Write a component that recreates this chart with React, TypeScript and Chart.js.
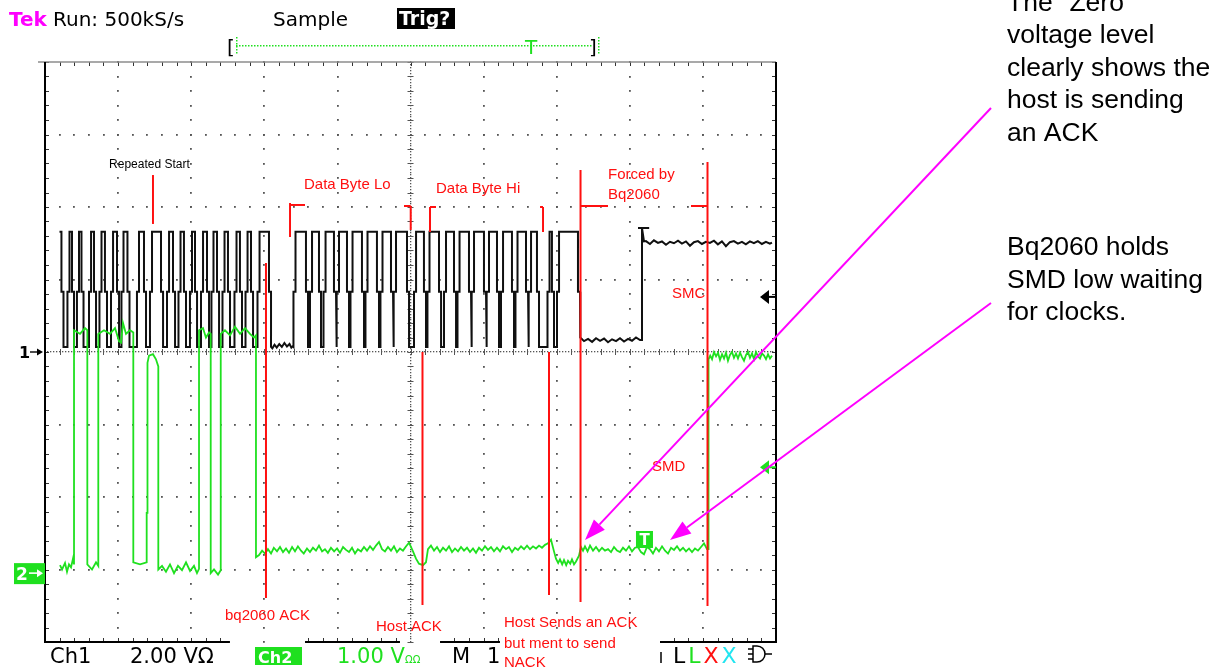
import React, { useEffect, useRef } from 'react';
import { Chart, registerables } from 'chart.js';

Chart.register(...registerables);

// ---------------- data ----------------
// time axis in microseconds (100 us/div, 10 div on screen); channel values in volts
const TIME_RANGE_US = [0, 1000];
const CH1_VOLTS_RANGE = [-8, 8]; // 2.00 V/div, ground at the centre line
const CH2_VOLTS_RANGE = [-0.95, 7.05]; // 1.00 V/div, ground 3.05 div below centre
const DIV_RANGE = [-4, 4];

// Ch1 (SMC, black): clock pulses, middle of each rising / falling edge
const CH1_RISE_US = [19.8, 32.1, 45.1, 61.6, 75.9, 91.7, 106.0, 127.2, 145.0, 168.3, 184.0, 199.7, 214.8, 229.1, 244.2, 260.6, 275.7, 292.1, 341.3, 363.9, 382.4, 400.8, 419.3, 439.8, 460.3, 478.8, 506.2, 524.6, 547.2, 565.7, 585.5, 606.0, 625.2, 645.0, 663.5, 688.8, 701.8];
const CH1_FALL_US = [23.9, 38.3, 51.3, 68.4, 83.4, 99.9, 114.2, 136.8, 160.1, 176.5, 191.5, 206.6, 223.0, 236.7, 251.7, 268.1, 283.2, 307.8, 358.4, 376.2, 396.7, 414.5, 435.0, 455.5, 474.7, 496.6, 519.8, 540.4, 560.9, 581.4, 601.9, 619.7, 640.2, 659.4, 674.4, 694.9, 730.5];
const CH1_LOW_V = 0.14;
const CH1_HIGH_V = 3.32;
const CH1_KNEE_V = 1.66;
const CH1_EDGE_SKEW_US = 2.8;
const CH1_IDLE_GAP_AFTER_PULSE = 17;
const CH1_IDLE_GAP = [[311.0, 0.10], [314.0, 0.20], [317.0, 0.12], [320.5, 0.22], [324.0, 0.14], [327.5, 0.25], [331.0, 0.15], [334.5, 0.22], [337.0, 0.12], [339.0, 0.16]];
const CH1_FORCED_LOW = [[732.6, 0.40], [737.4, 0.30], [742.9, 0.36], [748.4, 0.28], [753.8, 0.38], [759.3, 0.31], [764.8, 0.37], [770.2, 0.27], [775.7, 0.35], [781.2, 0.30], [786.6, 0.38], [792.1, 0.29], [797.6, 0.36], [803.0, 0.31], [808.5, 0.40], [814.0, 0.33]];
const CH1_RELEASE_US = 816.7;
const CH1_RELEASE_PEAK_V = 3.42;
const CH1_RELEASED_HIGH = [[819.4, 3.05], [822.1, 3.06], [827.6, 2.98], [833.0, 3.08], [838.5, 3.01], [844.0, 3.05], [849.5, 2.96], [854.9, 3.04], [860.4, 3.00], [865.9, 3.07], [871.3, 2.99], [876.8, 3.05], [882.3, 2.93], [887.7, 3.03], [893.2, 3.06], [898.7, 2.98], [904.1, 3.04], [909.6, 3.01], [915.1, 3.07], [920.5, 2.97], [926.0, 3.05], [931.5, 2.92], [936.9, 3.03], [942.4, 3.06], [947.9, 2.99], [953.4, 3.04], [958.8, 2.97], [964.3, 3.05], [969.8, 3.00], [975.2, 3.06], [980.7, 2.98], [986.2, 3.04], [991.6, 2.99], [994.5, 3.02]];

// Ch2 (SMD, green): [time us, volts]
const CH2_TRACE = [
  [20.5, 0.11], [23.3, 0.05], [27.4, 0.14], [30.1, 0.02], [32.8, 0.12], [35.6, 0.08], [38.3, 0.20], [39.7, 0.12],
  [39.7, 3.35], [47.9, 3.30], [54.7, 3.38], [57.9, 3.35],
  [57.9, 0.12], [64.3, 0.05], [69.8, 0.15], [72.9, 0.10],
  [72.9, 3.30], [80.7, 3.35], [88.9, 3.30], [95.8, 3.38], [101.2, 3.20], [104.0, 3.18], [106.7, 3.45], [110.8, 3.30], [116.3, 3.35], [120.8, 3.32],
  [120.8, 0.15], [130.0, 0.12], [139.1, 0.15],
  [139.1, 0.83], [140.2, 0.83], [140.2, 2.90], [142.3, 3.00], [147.7, 3.02], [151.8, 2.95], [155.0, 2.85],
  [155.0, 0.05], [160.1, 0.10], [165.5, 0.02], [171.0, 0.12], [176.5, 0.00], [181.9, 0.10], [187.4, 0.04], [192.9, 0.15], [198.4, 0.03], [203.8, 0.10], [207.9, 0.00], [210.7, 0.06],
  [210.7, 3.35], [216.1, 3.38], [220.2, 3.25], [224.4, 3.32], [226.7, 3.30],
  [226.7, 0.00], [231.2, 0.05], [236.7, -0.02], [240.4, 0.04],
  [240.4, 3.30], [246.2, 3.35], [253.1, 3.28], [259.9, 3.40], [266.8, 3.30], [273.6, 3.38], [280.4, 3.30], [285.9, 3.25], [288.6, 3.28],
  [288.6, 0.22], [292.8, 0.25], [297.0, 0.31], [301.0, 0.27], [305.0, 0.33], [309.2, 0.27], [313.0, 0.35], [317.4, 0.30], [321.5, 0.36], [325.6, 0.29], [329.7, 0.34], [333.8, 0.28], [338.0, 0.36], [342.0, 0.30], [346.0, 0.37], [350.2, 0.31], [354.0, 0.27], [358.4, 0.34], [362.5, 0.29], [366.6, 0.35], [370.7, 0.31], [374.8, 0.38], [379.0, 0.30], [383.0, 0.33], [387.0, 0.28], [391.2, 0.35], [395.5, 0.30], [399.5, 0.34], [403.5, 0.28], [407.7, 0.36], [411.8, 0.32], [415.9, 0.29], [420.0, 0.35], [424.1, 0.27], [428.0, 0.33], [432.3, 0.30], [436.4, 0.36], [440.5, 0.31], [444.6, 0.37], [448.7, 0.32], [452.8, 0.38], [456.9, 0.43], [461.0, 0.33], [465.1, 0.30], [469.2, 0.36], [473.3, 0.31], [477.4, 0.37], [481.5, 0.29], [485.6, 0.34], [489.7, 0.31], [494.0, 0.37], [498.0, 0.42],
  [503.4, 0.30], [507.5, 0.20], [511.6, 0.13], [517.1, 0.11], [521.2, 0.15], [523.9, 0.33], [528.0, 0.38], [532.2, 0.31], [536.3, 0.36], [540.4, 0.29], [544.5, 0.35], [548.6, 0.31], [552.7, 0.37], [556.8, 0.29], [560.9, 0.34], [565.0, 0.30], [569.1, 0.36], [573.2, 0.31], [577.3, 0.35], [581.4, 0.29], [585.5, 0.34], [589.6, 0.28], [593.7, 0.35], [597.8, 0.31], [601.9, 0.37], [606.0, 0.32], [610.1, 0.36], [614.2, 0.30], [618.3, 0.35], [622.4, 0.30], [626.5, 0.37], [630.6, 0.33], [634.7, 0.36], [638.9, 0.29], [643.0, 0.35], [647.1, 0.32], [651.2, 0.37], [655.3, 0.33], [659.4, 0.38], [663.5, 0.33], [667.6, 0.37], [671.7, 0.34], [675.8, 0.38], [679.9, 0.35], [684.0, 0.39], [688.1, 0.41], [692.2, 0.46],
  [696.3, 0.30], [699.0, 0.20], [702.0, 0.14], [704.5, 0.19], [707.5, 0.12], [710.0, 0.18], [713.0, 0.11], [715.5, 0.17], [718.5, 0.13], [720.9, 0.19], [723.7, 0.12], [726.4, 0.16], [730.5, 0.24], [733.2, 0.36], [736.0, 0.31], [738.7, 0.37], [742.2, 0.30], [745.6, 0.38], [749.7, 0.31], [753.8, 0.36], [757.9, 0.30], [762.0, 0.35], [766.1, 0.31], [770.2, 0.33], [774.3, 0.29], [778.4, 0.36], [782.5, 0.31], [786.6, 0.29], [790.7, 0.35], [794.8, 0.31], [798.9, 0.37], [803.0, 0.30], [807.1, 0.35], [811.2, 0.36], [815.3, 0.29], [819.4, 0.26], [823.5, 0.36], [827.6, 0.33], [831.7, 0.27], [835.8, 0.35], [839.9, 0.30], [844.1, 0.37], [848.2, 0.31], [852.3, 0.27], [856.4, 0.35], [860.5, 0.32], [864.6, 0.37], [868.7, 0.31], [872.8, 0.35], [876.9, 0.30], [881.0, 0.34], [885.1, 0.29], [889.2, 0.34], [893.3, 0.31], [897.4, 0.36], [901.5, 0.41], [905.6, 0.33],
  [907.7, 0.33], [907.7, 2.95], [910.0, 3.00], [912.5, 2.95], [915.2, 3.05], [918.0, 2.99], [920.7, 3.04], [923.4, 2.94], [926.2, 3.02], [928.9, 2.96], [931.6, 3.04], [934.3, 2.93], [937.0, 3.01], [939.8, 3.05], [942.5, 2.97], [945.3, 3.03], [948.0, 2.96], [950.8, 3.04], [953.5, 2.98], [956.2, 2.93], [959.0, 3.01], [961.7, 3.05], [964.4, 2.97], [967.2, 3.03], [969.9, 2.95], [972.6, 3.05], [975.3, 2.99], [978.1, 2.96], [980.8, 3.03], [983.6, 3.00], [986.3, 2.95], [989.1, 3.02], [991.8, 2.96], [994.5, 3.00],
];

const CH1_TRIGGER_V = 1.52;
const CH2_TRIGGER_V = 1.46;

// annotations in (time us, screen div)
const RED_SEGMENTS = [
  [147.7, 2.441, 147.7, 1.766],
  [335.2, 2.055, 335.2, 1.586], [335.2, 2.028, 355.7, 2.028],
  [491.1, 2.014, 500.3, 2.014], [500.3, 2.014, 500.3, 1.683],
  [526.7, 2.0, 526.7, 1.655], [526.7, 2.0, 534.9, 2.0],
  [677.2, 2.0, 681.3, 2.0], [681.3, 2.0, 681.3, 1.655],
  [732.6, 2.510, 732.6, -3.448], [732.6, 2.014, 770.2, 2.014],
  [906.3, 2.621, 906.3, -3.503], [883.7, 2.014, 906.3, 2.014],
  [302.3, 1.228, 302.3, -3.393],
  [516.4, 0.0, 516.4, -3.490],
  [689.5, 0.0, 689.5, -3.352],
];
const RED_LABELS = [
  ['Data Byte Lo', 354.3, 2.248],
  ['Data Byte Hi', 534.9, 2.193],
  ['Forced by', 770.2, 2.386],
  ['Bq2060', 770.2, 2.110],
  ['SMC', 857.7, 0.745],
  ['SMD', 830.4, -1.641],
  ['bq2060 ACK', 246.2, -3.697],
  ['Host ACK', 452.8, -3.848],
  ['Host Sends an ACK', 627.9, -3.793],
  ['but ment to send', 627.9, -4.083],
  ['NACK', 627.9, -4.345],
];
const BLACK_LABELS = [['Repeated Start', 87.6, 2.538]];
const MAGENTA_ARROWS = [
  [1294.1, 3.366, 738.7, -2.593],
  [1294.1, 0.676, 855.0, -2.593],
];
const NOTE_LINES = [
  ['The "Zero"', 10.5], ['voltage level', 43], ['clearly shows the', 75.5], ['host is sending', 108], ['an ACK', 140.5],
  ['Bq2060 holds', 255], ['SMD low waiting', 287.5], ['for clocks.', 320],
];
const BOTTOM_BORDER_SEGMENTS_US = [[0, 253], [355.7, 485.6], [540.4, 622.4], [841.3, 1000]];

const GREEN = '#1fe01f';
const RED = '#ff1010';
const MAGENTA = '#ff00ff';
const TEK_FONT = '"DejaVu Sans", Verdana, sans-serif';
const ARIAL = '"Liberation Sans", Arial, sans-serif';

function buildCh1() {
  const p: any[] = [];
  const s = CH1_EDGE_SKEW_US / 2;
  const n = CH1_RISE_US.length;
  CH1_RISE_US.forEach((r, i) => {
    const f = CH1_FALL_US[i];
    if (i === 0) p.push({ x: r, y: CH1_HIGH_V });
    else p.push({ x: r - s, y: CH1_LOW_V }, { x: r - s, y: CH1_KNEE_V }, { x: r + s, y: CH1_KNEE_V }, { x: r + s, y: CH1_HIGH_V });
    const endLow = i === n - 1 ? CH1_FORCED_LOW[0][1] : CH1_LOW_V;
    p.push({ x: f - s, y: CH1_HIGH_V }, { x: f - s, y: CH1_KNEE_V }, { x: f + s, y: CH1_KNEE_V }, { x: f + s, y: endLow });
    if (i === CH1_IDLE_GAP_AFTER_PULSE) CH1_IDLE_GAP.forEach(([x, y]) => p.push({ x, y }));
  });
  CH1_FORCED_LOW.forEach(([x, y]) => p.push({ x, y }));
  const lastLow = CH1_FORCED_LOW[CH1_FORCED_LOW.length - 1][1];
  p.push({ x: CH1_RELEASE_US, y: lastLow }, { x: CH1_RELEASE_US, y: CH1_RELEASE_PEAK_V });
  CH1_RELEASED_HIGH.forEach(([x, y]) => p.push({ x, y }));
  return p;
}

const scopeDecor = {
  id: 'scopeDecor',
  beforeDatasetsDraw(chart: any) {
    const { ctx, chartArea: a, scales } = chart;
    const X = (v: number) => scales.x.getPixelForValue(v);
    const D = (v: number) => scales.div.getPixelForValue(v);
    const line = (x1: number, y1: number, x2: number, y2: number) => { ctx.beginPath(); ctx.moveTo(x1, y1); ctx.lineTo(x2, y2); ctx.stroke(); };
    const dot = (x: number, y: number, s = 1.8) => ctx.fillRect(Math.round(x - s / 2), Math.round(y - s / 2), s, s);
    ctx.save();
    ctx.fillStyle = '#555';
    for (let k = 1; k < 10; k++) {
      if (k === 5) continue;
      const px = X(k * 100);
      for (let m = 0; m <= 40; m++) dot(px, D(-4 + m * 0.2));
    }
    for (let j = -3; j <= 3; j++) {
      if (j === 0) continue;
      const py = D(j);
      for (let m = 0; m <= 50; m++) dot(X(m * 20), py);
    }
    const cx = X(500), cy = D(0);
    for (let m = 0; m <= 200; m++) dot(cx, D(-4 + m * 0.04), 1.3);
    for (let m = 0; m <= 250; m++) dot(X(m * 4), cy, 1.3);
    ctx.strokeStyle = '#555';
    ctx.lineWidth = 1;
    for (let m = 0; m <= 40; m++) { const py = Math.round(D(-4 + m * 0.2)) + 0.5; line(cx - 3, py, cx + 3, py); }
    for (let m = 0; m <= 50; m++) { const px = Math.round(X(m * 20)) + 0.5; line(px, cy - 3, px, cy + 3); }
    // border ticks
    ctx.strokeStyle = '#333';
    for (let m = 0; m <= 40; m++) {
      const py = Math.round(D(-4 + m * 0.2)) + 0.5;
      line(a.left, py, a.left + 4, py);
      line(a.right - 4, py, a.right, py);
    }
    for (let m = 0; m <= 50; m++) {
      const v = m * 20;
      const px = Math.round(X(v)) + 0.5;
      line(px, a.top, px, a.top + 4);
      if (BOTTOM_BORDER_SEGMENTS_US.some(([s0, s1]) => v >= s0 && v <= s1)) line(px, a.bottom - 4, px, a.bottom);
    }
    // frame
    ctx.strokeStyle = '#8c8c8c';
    ctx.lineWidth = 1.5;
    line(38, a.top, a.right, a.top);
    ctx.strokeStyle = '#000';
    ctx.lineWidth = 2;
    line(a.left, a.top, a.left, a.bottom);
    line(a.right, a.top, a.right, a.bottom);
    BOTTOM_BORDER_SEGMENTS_US.forEach(([s0, s1]) => line(X(s0) - (s0 === 0 ? 1 : 0), a.bottom, X(s1) + (s1 === 1000 ? 1 : 0), a.bottom));
    ctx.restore();
  },
  afterDraw(chart: any) {
    const { ctx, chartArea: a, scales } = chart;
    const X = (v: number) => scales.x.getPixelForValue(v);
    const D = (v: number) => scales.div.getPixelForValue(v);
    const Y1 = (v: number) => scales.y1.getPixelForValue(v);
    const Y2 = (v: number) => scales.y2.getPixelForValue(v);
    const line = (x1: number, y1: number, x2: number, y2: number) => { ctx.beginPath(); ctx.moveTo(x1, y1); ctx.lineTo(x2, y2); ctx.stroke(); };
    ctx.save();
    ctx.textBaseline = 'alphabetic';
    ctx.textAlign = 'left';

    // black T cap on the SMC release edge and the ch2 trigger box
    ctx.strokeStyle = '#111';
    ctx.lineWidth = 2;
    line(X(811.2), Y1(CH1_RELEASE_PEAK_V), X(826.5), Y1(CH1_RELEASE_PEAK_V));
    const tx = X(819.4), ty = D(-2.579);
    ctx.fillStyle = GREEN;
    ctx.fillRect(tx - 8, ty - 8, 17, 17);
    ctx.fillStyle = '#fff';
    ctx.font = 'bold 15px ' + TEK_FONT;
    ctx.fillText('T', tx - 4.5, ty + 6);

    // red annotations
    ctx.strokeStyle = RED;
    ctx.lineWidth = 2;
    RED_SEGMENTS.forEach(([x1, y1, x2, y2]) => line(X(x1), D(y1), X(x2), D(y2)));
    const hx = X(627.9);
    ctx.fillStyle = '#fff';
    ctx.fillRect(hx - 4, a.bottom - 4, 160, 40);
    ctx.fillStyle = RED;
    ctx.font = '15px ' + ARIAL;
    RED_LABELS.forEach(([t, x, y]: any) => ctx.fillText(t, X(x), D(y)));
    ctx.fillStyle = '#000';
    ctx.font = '12px ' + ARIAL;
    BLACK_LABELS.forEach(([t, x, y]: any) => ctx.fillText(t, X(x), D(y)));

    // ground / trigger markers
    const g1 = Y1(0), g2 = Y2(0);
    ctx.fillStyle = '#000';
    ctx.font = 'bold 16px ' + TEK_FONT;
    ctx.fillText('1', 19, g1 + 6);
    ctx.strokeStyle = '#000';
    ctx.lineWidth = 1.4;
    line(30, g1, 40, g1);
    ctx.beginPath(); ctx.moveTo(43, g1); ctx.lineTo(37, g1 - 3.5); ctx.lineTo(37, g1 + 3.5); ctx.closePath(); ctx.fill();
    ctx.fillStyle = GREEN;
    ctx.fillRect(14, g2 - 10, 31, 21);
    ctx.fillStyle = '#fff';
    ctx.font = 'bold 17px ' + TEK_FONT;
    ctx.fillText('2', 16, g2 + 7);
    ctx.strokeStyle = '#fff';
    ctx.lineWidth = 1.6;
    line(29, g2, 39, g2);
    ctx.beginPath(); ctx.moveTo(43, g2); ctx.lineTo(37, g2 - 4); ctx.lineTo(37, g2 + 4); ctx.closePath(); ctx.fill();

    const trig = (y: number, c: string) => {
      ctx.fillStyle = c; ctx.strokeStyle = c; ctx.lineWidth = 2;
      ctx.beginPath(); ctx.moveTo(a.right - 16, y); ctx.lineTo(a.right - 7, y - 7); ctx.lineTo(a.right - 7, y + 7); ctx.closePath(); ctx.fill();
      line(a.right - 8, y, a.right, y);
    };
    trig(Y1(CH1_TRIGGER_V), '#000');
    trig(Y2(CH2_TRIGGER_V), GREEN);

    // magenta arrows
    ctx.strokeStyle = MAGENTA;
    ctx.fillStyle = MAGENTA;
    ctx.lineWidth = 2;
    MAGENTA_ARROWS.forEach(([x1, y1, x2, y2]) => {
      const p1x = X(x1), p1y = D(y1), p2x = X(x2), p2y = D(y2);
      const ang = Math.atan2(p2y - p1y, p2x - p1x);
      const L = 21, Wd = 7.5;
      const bx = p2x - L * Math.cos(ang), by = p2y - L * Math.sin(ang);
      line(p1x, p1y, bx, by);
      ctx.beginPath();
      ctx.moveTo(p2x, p2y);
      ctx.lineTo(bx + Wd * Math.sin(ang), by - Wd * Math.cos(ang));
      ctx.lineTo(bx - Wd * Math.sin(ang), by + Wd * Math.cos(ang));
      ctx.closePath();
      ctx.fill();
    });

    // notes on the right
    ctx.fillStyle = '#000';
    ctx.font = '26.5px ' + ARIAL;
    NOTE_LINES.forEach(([t, y]: any) => ctx.fillText(t, 1007, y));

    // header
    ctx.font = 'bold 20px ' + TEK_FONT;
    ctx.fillStyle = MAGENTA;
    ctx.fillText('Tek', 9, 26);
    ctx.font = '20px ' + TEK_FONT;
    ctx.fillStyle = '#000';
    ctx.fillText('Run: 500kS/s', 53, 26);
    ctx.fillText('Sample', 273, 26);
    ctx.fillRect(397, 8, 58, 21);
    ctx.fillStyle = '#fff';
    ctx.font = 'bold 19px ' + TEK_FONT;
    ctx.fillText('Trig?', 399, 25);
    ctx.fillStyle = '#000';
    ctx.font = '20px ' + TEK_FONT;
    ctx.fillText('[', 227, 54);
    ctx.fillText(']', 589, 54);
    ctx.fillStyle = GREEN;
    for (let px = 236; px <= 590; px += 3) ctx.fillRect(px, 45, 1.5, 1.5);
    for (let py = 37; py <= 54; py += 3) { ctx.fillRect(236, py, 1.5, 1.5); ctx.fillRect(598, py, 1.5, 1.5); }
    ctx.fillText('T', 525, 54);

    // bottom readouts
    ctx.fillStyle = '#000';
    ctx.font = '21px ' + TEK_FONT;
    ctx.fillText('Ch1', 50, 663);
    ctx.fillText('2.00 V\u03a9', 130, 663);
    ctx.fillStyle = GREEN;
    ctx.fillRect(255, 647, 47, 18);
    ctx.fillStyle = '#fff';
    ctx.font = 'bold 16px ' + TEK_FONT;
    ctx.fillText('Ch2', 258, 663);
    ctx.fillStyle = GREEN;
    ctx.font = '21px ' + TEK_FONT;
    ctx.fillText('1.00 V', 337, 663);
    ctx.font = '10px ' + TEK_FONT;
    ctx.fillText('\u03a9\u03a9', 405, 663);
    ctx.fillStyle = '#000';
    ctx.font = '21px ' + TEK_FONT;
    ctx.fillText('M', 452, 663);
    ctx.fillText('1', 487, 663);
    ctx.strokeStyle = '#000';
    ctx.lineWidth = 1.5;
    line(661, 652, 661, 663);
    const cols = ['#000', GREEN, RED, '#22e5f0'];
    const chars = ['L', 'L', 'X', 'X'];
    let lx = 673;
    ctx.font = '22px ' + TEK_FONT;
    chars.forEach((c, i) => { ctx.fillStyle = cols[i]; ctx.fillText(c, lx, 663); lx += ctx.measureText(c).width + 3; });
    ctx.strokeStyle = '#000';
    ctx.lineWidth = 1.5;
    line(748, 649, 753, 649); line(748, 654, 753, 654); line(748, 659, 753, 659);
    ctx.beginPath(); ctx.moveTo(753, 646); ctx.lineTo(757, 646); ctx.arc(757, 654, 8, -Math.PI / 2, Math.PI / 2); ctx.lineTo(753, 662); ctx.closePath(); ctx.stroke();
    line(765, 654, 772, 654);
    ctx.restore();
  },
};

export default function App() {
  const ref = useRef<HTMLCanvasElement | null>(null);
  useEffect(() => {
    document.body.style.margin = '0';
    const canvas = ref.current;
    if (!canvas) return;
    const chart = new Chart(canvas, {
      type: 'line',
      data: {
        datasets: [
          { label: 'Ch2', data: CH2_TRACE.map(([x, y]) => ({ x, y })), yAxisID: 'y2', borderColor: GREEN, borderWidth: 1.8, pointRadius: 0, tension: 0, fill: false },
          { label: 'Ch1', data: buildCh1(), yAxisID: 'y1', borderColor: '#101010', borderWidth: 2, pointRadius: 0, tension: 0, fill: false },
        ],
      },
      options: {
        animation: false,
        responsive: false,
        maintainAspectRatio: false,
        events: [],
        layout: { padding: { left: 45, right: 449, top: 62, bottom: 27 } },
        plugins: { legend: { display: false }, tooltip: { enabled: false } },
        scales: {
          x: { type: 'linear', axis: 'x', position: 'bottom', min: TIME_RANGE_US[0], max: TIME_RANGE_US[1], display: false },
          y1: { type: 'linear', axis: 'y', position: 'left', min: CH1_VOLTS_RANGE[0], max: CH1_VOLTS_RANGE[1], display: false },
          y2: { type: 'linear', axis: 'y', position: 'left', min: CH2_VOLTS_RANGE[0], max: CH2_VOLTS_RANGE[1], display: false },
          div: { type: 'linear', axis: 'y', position: 'left', min: DIV_RANGE[0], max: DIV_RANGE[1], display: false },
        },
      } as any,
      plugins: [scopeDecor],
    } as any);
    return () => chart.destroy();
  }, []);
  return (
    <div style={{ position: 'absolute', left: 0, top: 0, width: 1225, height: 669, background: '#fff' }}>
      <canvas ref={ref} width={1225} height={669} style={{ display: 'block', width: 1225, height: 669 }} />
    </div>
  );
}
